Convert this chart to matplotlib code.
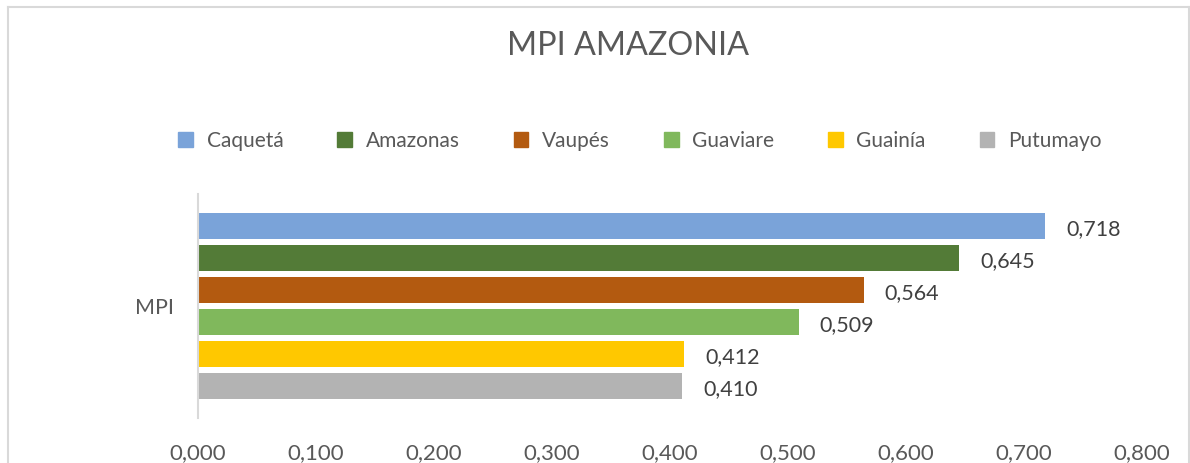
import matplotlib.pyplot as plt
from matplotlib.lines import Line2D
from matplotlib.patches import Patch

plt.rcParams['font.family'] = ['Lato', 'DejaVu Sans']

# --- data ---
category = "MPI"
regions = ['Caquetá', 'Amazonas', 'Vaupés', 'Guaviare', 'Guainía', 'Putumayo']
mpi = [0.718, 0.645, 0.564, 0.509, 0.412, 0.410]
colors = ['#7aa3d9', '#537b37', '#b35a10', '#80b85c', '#ffc800', '#b3b3b3']
xticks = [0.0, 0.1, 0.2, 0.3, 0.4, 0.5, 0.6, 0.7, 0.8]

W, H = 1190, 463
fig = plt.figure(figsize=(W / 100, H / 100), dpi=100)
ax = fig.add_axes([198 / W, 1 - 418 / H, (1142 - 198) / W, (418 - 194) / H])

n = len(regions)
step = 1 / (n + 1)
for i, (name, v, c) in enumerate(zip(regions, mpi, colors)):
    y = (n - 1) / 2 * step - i * step
    ax.barh(y, v, height=0.8 * step, color=c, label=name)
    ax.text(v + 0.018, y - 0.012, f"{v:.3f}".replace('.', ','),
            va='center', ha='left', fontsize=15.5, color='#404040')

ax.set_xlim(0, 0.8)
ax.set_ylim(-0.5, 0.5)
ax.set_xticks(xticks)
ax.set_xticklabels([f"{t:.3f}".replace('.', ',') for t in xticks])
ax.set_yticks([0])
ax.set_yticklabels([category])
ax.tick_params(axis='x', length=0, pad=18, labelsize=16, labelcolor='#595959')
ax.tick_params(axis='y', length=0, pad=17, labelsize=15.5, labelcolor='#595959')
for s in ['top', 'right', 'bottom']:
    ax.spines[s].set_visible(False)
ax.spines['left'].set_color('#d9d9d9')
ax.spines['left'].set_linewidth(1.5)

fig.text(628 / W, 1 - 46 / H, "MPI AMAZONIA", ha='center', va='center',
         fontsize=23.3, color='#595959')

handles = [Patch(color=c, label=r) for r, c in zip(regions, colors)]
fig.legend(handles=handles, loc='center', bbox_to_anchor=(640 / W, 1 - 141 / H),
           ncol=6, frameon=False, fontsize=15, labelcolor='#595959',
           handlelength=0.7, handleheight=0.7, handletextpad=0.65,
           columnspacing=2.6)

# outer chart frame
frame = dict(color='#d9d9d9', linewidth=1.5, transform=fig.transFigure)
fig.add_artist(Line2D([7.5 / W, 7.5 / W], [0, 1 - 7 / H], **frame))
fig.add_artist(Line2D([7.5 / W, 1188.5 / W], [1 - 7 / H, 1 - 7 / H], **frame))
fig.add_artist(Line2D([1188.5 / W, 1188.5 / W], [0, 1 - 7 / H], **frame))

fig.savefig('out.png', dpi=100)
